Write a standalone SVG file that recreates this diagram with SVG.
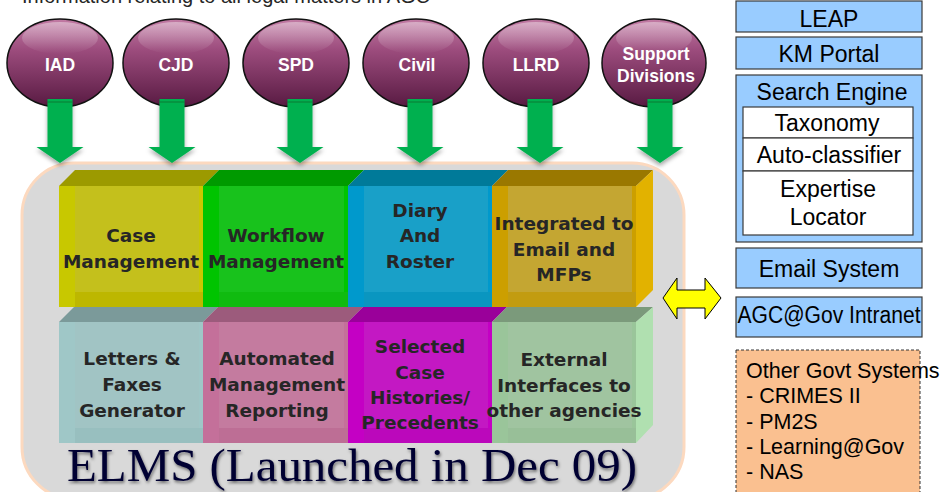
<svg xmlns="http://www.w3.org/2000/svg" width="941" height="492" viewBox="0 0 941 492">
<style>
.ct{font-family:"Liberation Sans",Arial,sans-serif;font-weight:bold;font-size:17.5px;fill:#fff;text-anchor:middle}
.bt{font-family:"DejaVu Sans",sans-serif;font-weight:bold;font-size:18.5px;fill:#262626;text-anchor:middle}
.pt{font-family:"Liberation Sans",Arial,sans-serif;font-size:23px;fill:#000;text-anchor:middle}
.ot{font-family:"Liberation Sans",Arial,sans-serif;font-size:21.5px;fill:#000}
.blue{fill:#99ccff;stroke:#3a3a3a;stroke-width:1.2}
.wht{fill:#fff;stroke:#3a3a3a;stroke-width:1.2}
.circ{fill:url(#cg);stroke:#111;stroke-width:1.5}
.hl{fill:url(#hg)}
.arr{fill:#00b050}
.ln{fill:none;stroke:#0a7a35;stroke-width:1.2}
</style>
<defs>
<linearGradient id="cg" x1="0" y1="0" x2="0" y2="1">
<stop offset="0" stop-color="#c27ba4"/>
<stop offset="0.35" stop-color="#9c4c7d"/>
<stop offset="1" stop-color="#581a42"/>
</linearGradient>
<linearGradient id="hg" x1="0" y1="0" x2="0" y2="1">
<stop offset="0" stop-color="#fff" stop-opacity="0.4"/>
<stop offset="1" stop-color="#fff" stop-opacity="0"/>
</linearGradient>
<filter id="sh" x="-20%" y="-20%" width="140%" height="140%">
<feDropShadow dx="0" dy="3" stdDeviation="2" flood-color="#000" flood-opacity="0.35"/>
</filter>
<filter id="tsh" filterUnits="userSpaceOnUse" x="40" y="430" width="640" height="80">
<feDropShadow dx="1" dy="2" stdDeviation="1.5" flood-color="#000" flood-opacity="0.5"/>
</filter>
</defs>

<rect width="941" height="492" fill="#fff"/>

<text x="22" y="3" font-family="Liberation Sans, Arial, sans-serif" font-size="20" fill="#262626">Information relating to all legal matters in AGC</text>

<!-- container -->
<g id="container">
<rect x="22" y="163" width="662" height="336" rx="52" fill="#d9d9d9" stroke="#fcd9bf" stroke-width="3"/>
</g>

<!-- top row boxes -->
<g id="case">
<polygon points="59,186 75,170 219,170 203,186" fill="#9c9a00"/>
<rect x="59" y="186" width="144" height="121" fill="#c8c800"/>
<rect x="75" y="186" width="124" height="106" fill="#c4c01c"/>
<rect x="75" y="292" width="128" height="15" fill="#bdb700"/>
<text class="bt" x="131" y="242">Case</text>
<text class="bt" x="131" y="268">Management</text>
</g>
<g id="workflow">
<polygon points="203,186 219,170 364,170 348,186" fill="#009a00"/>
<rect x="203" y="186" width="145" height="121" fill="#00c400"/>
<rect x="219" y="186" width="125" height="106" fill="#18c21c"/>
<rect x="219" y="292" width="129" height="15" fill="#10bb10"/>
<text class="bt" x="276" y="242">Workflow</text>
<text class="bt" x="276" y="268">Management</text>
</g>
<g id="diary">
<polygon points="348,186 364,170 508,170 492,186" fill="#007a99"/>
<rect x="348" y="186" width="144" height="121" fill="#0099cc"/>
<rect x="364" y="186" width="124" height="106" fill="#19a0c8"/>
<rect x="364" y="292" width="128" height="15" fill="#0a96c0"/>
<text class="bt" x="420" y="217">Diary</text>
<text class="bt" x="420" y="242">And</text>
<text class="bt" x="420" y="268">Roster</text>
</g>
<g id="integrated">
<polygon points="492,186 508,170 653,170 636,186" fill="#9a7800"/>
<polygon points="636,186 653,170 653,290 636,307" fill="#e2b200"/>
<rect x="492" y="186" width="144" height="121" fill="#cc9f00"/>
<rect x="508" y="186" width="124" height="106" fill="#c4a632"/>
<rect x="508" y="292" width="128" height="15" fill="#c29c10"/>
<text class="bt" x="564" y="230">Integrated to</text>
<text class="bt" x="564" y="256">Email and</text>
<text class="bt" x="564" y="281">MFPs</text>
</g>

<!-- bottom row boxes -->
<g id="letters">
<polygon points="59,322 74,307 218,307 203,322" fill="#7b9a9a"/>
<rect x="59" y="322" width="144" height="121" fill="#9fc7c7"/>
<rect x="75" y="322" width="124" height="106" fill="#a1c4c4"/>
<rect x="75" y="428" width="128" height="15" fill="#98bfbf"/>
<text class="bt" x="132" y="365">Letters &amp;</text>
<text class="bt" x="132" y="391">Faxes</text>
<text class="bt" x="132" y="417">Generator</text>
</g>
<g id="automated">
<polygon points="203,322 218,307 363,307 348,322" fill="#9c5b7c"/>
<rect x="203" y="322" width="145" height="121" fill="#c4709a"/>
<rect x="219" y="322" width="125" height="106" fill="#c47b9f"/>
<rect x="219" y="428" width="129" height="15" fill="#bd6e95"/>
<text class="bt" x="277" y="365">Automated</text>
<text class="bt" x="277" y="391">Management</text>
<text class="bt" x="277" y="417">Reporting</text>
</g>
<g id="selected">
<polygon points="348,322 363,307 507,307 492,322" fill="#9a009a"/>
<rect x="348" y="322" width="144" height="121" fill="#c400c4"/>
<rect x="364" y="322" width="124" height="106" fill="#c318c3"/>
<rect x="364" y="428" width="128" height="15" fill="#bb08bb"/>
<text class="bt" x="420" y="353">Selected</text>
<text class="bt" x="420" y="379">Case</text>
<text class="bt" x="420" y="404">Histories/</text>
<text class="bt" x="420" y="429">Precedents</text>
</g>
<g id="external">
<polygon points="492,322 507,307 653,307 636,322" fill="#7b9a7b"/>
<polygon points="636,322 653,307 653,425 636,443" fill="#b0e0b0"/>
<rect x="492" y="322" width="144" height="121" fill="#9ac59a"/>
<rect x="508" y="322" width="124" height="106" fill="#a0c4a0"/>
<rect x="508" y="428" width="128" height="15" fill="#98bf98"/>
<text class="bt" x="564" y="366">External</text>
<text class="bt" x="564" y="392">Interfaces to</text>
<text class="bt" x="564" y="417">other agencies</text>
</g>

<g id="elms-title">
<text x="67" y="481" font-family="Liberation Serif, 'Times New Roman', serif" font-size="47" textLength="570" lengthAdjust="spacingAndGlyphs" fill="#000033" filter="url(#tsh)">ELMS (Launched in Dec 09)</text>
</g>

<!-- division circles -->
<g id="iad">
<ellipse class="circ" cx="60" cy="63" rx="53" ry="44"/>
<ellipse class="hl" cx="60" cy="38" rx="38" ry="16"/>
<text class="ct" x="60" y="71">IAD</text>
</g>
<g id="cjd">
<ellipse class="circ" cx="176" cy="63" rx="53" ry="44"/>
<ellipse class="hl" cx="176" cy="38" rx="38" ry="16"/>
<text class="ct" x="176" y="71">CJD</text>
</g>
<g id="spd">
<ellipse class="circ" cx="296" cy="63" rx="53" ry="44"/>
<ellipse class="hl" cx="296" cy="38" rx="38" ry="16"/>
<text class="ct" x="296" y="71">SPD</text>
</g>
<g id="civil">
<ellipse class="circ" cx="416" cy="63" rx="53" ry="44"/>
<ellipse class="hl" cx="416" cy="38" rx="38" ry="16"/>
<text class="ct" x="417" y="71">Civil</text>
</g>
<g id="llrd">
<ellipse class="circ" cx="536" cy="63" rx="53" ry="44"/>
<ellipse class="hl" cx="536" cy="38" rx="38" ry="16"/>
<text class="ct" x="536" y="71">LLRD</text>
</g>
<g id="support">
<ellipse class="circ" cx="654" cy="63" rx="52" ry="44"/>
<ellipse class="hl" cx="654" cy="38" rx="38" ry="16"/>
<text class="ct" x="656" y="60">Support</text>
<text class="ct" x="656" y="82">Divisions</text>
</g>

<!-- connectors -->
<g id="connectors">
<g filter="url(#sh)">
<polygon class="arr" points="47.5,99 72.5,99 72.5,147 83.5,147 60,163 36.5,147 47.5,147"/>
<polygon class="arr" points="159.5,99 184.5,99 184.5,147 195.5,147 172,163 148.5,147 159.5,147"/>
<polygon class="arr" points="287.5,99 312.5,99 312.5,147 323.5,147 300,163 276.5,147 287.5,147"/>
<polygon class="arr" points="407.5,99 432.5,99 432.5,147 443.5,147 420,163 396.5,147 407.5,147"/>
<polygon class="arr" points="527.5,99 552.5,99 552.5,147 563.5,147 540,163 516.5,147 527.5,147"/>
<polygon class="arr" points="647.5,99 672.5,99 672.5,147 683.5,147 660,163 636.5,147 647.5,147"/>
</g>
<path class="ln" d="M47.5,102H72.5M159.5,102H184.5M287.5,102H312.5M407.5,102H432.5M527.5,102H552.5M647.5,102H672.5"/>
<polygon points="663,298 677,278 677,290 705,290 705,278 721,298 705,319 705,308 677,308 677,319" fill="#ffff00" stroke="#000" stroke-width="1"/>
</g>

<!-- right panels -->
<g id="leap">
<rect class="blue" x="736" y="1" width="186" height="31"/>
<text class="pt" x="829" y="27">LEAP</text>
</g>
<g id="km-portal">
<rect class="blue" x="736" y="37" width="186" height="32"/>
<text class="pt" x="829" y="62">KM Portal</text>
</g>
<g id="search-engine">
<rect class="blue" x="736" y="75" width="186" height="167"/>
<text class="pt" x="832" y="100">Search Engine</text>
<rect class="wht" x="743" y="107" width="170" height="31"/>
<text class="pt" x="827" y="131">Taxonomy</text>
<rect class="wht" x="743" y="138" width="170" height="33"/>
<text class="pt" x="829" y="163">Auto-classifier</text>
<rect class="wht" x="743" y="171" width="170" height="64"/>
<text class="pt" x="828" y="197">Expertise</text>
<text class="pt" x="828" y="225">Locator</text>
</g>
<g id="email-system">
<rect class="blue" x="736" y="248" width="186" height="40"/>
<text class="pt" x="829" y="277">Email System</text>
</g>
<g id="intranet">
<rect class="blue" x="736" y="297" width="186" height="40"/>
<text class="pt" x="829" y="323" textLength="183" lengthAdjust="spacingAndGlyphs">AGC@Gov Intranet</text>
</g>
<g id="other-govt">
<rect x="736" y="350" width="184" height="150" fill="#fac090" stroke="#333" stroke-width="1" stroke-dasharray="3,2"/>
<text class="ot" x="746" y="378">Other Govt Systems</text>
<text class="ot" x="746" y="403">- CRIMES II</text>
<text class="ot" x="746" y="429">- PM2S</text>
<text class="ot" x="746" y="454">- Learning@Gov</text>
<text class="ot" x="746" y="479">- NAS</text>
</g>
</svg>
